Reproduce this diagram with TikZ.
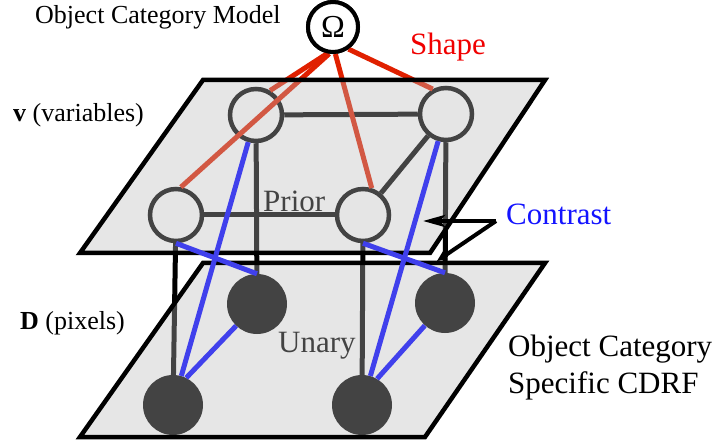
\documentclass[tikz,border=0pt]{standalone}
\usepackage{fontspec}
\setmainfont{Liberation Serif}
\usetikzlibrary{arrows.meta}
\definecolor{redline}{RGB}{224,32,0}
\definecolor{redtext}{RGB}{240,0,0}
\definecolor{blueline}{RGB}{64,64,236}
\definecolor{bluetext}{RGB}{20,20,255}
\definecolor{planegray}{RGB}{186,186,186}
\begin{document}
\begin{tikzpicture}[x=1pt,y=-1pt,
  vnode/.style={circle,draw=black,fill=white,line width=4.5pt,minimum size=52pt,inner sep=0pt},
  dnode/.style={circle,fill=black,minimum size=60pt,inner sep=0pt},
  omnode/.style={circle,draw=black,fill=white,line width=4pt,minimum size=50pt,inner sep=0pt,font=\fontsize{32}{32}\selectfont},
  prioredge/.style={line width=5pt,black},
  shapeedge/.style={line width=5pt,redline},
  contrastedge/.style={line width=5pt,blueline},
  plane/.style={fill=planegray,fill opacity=0.365,draw=black,draw opacity=1,line width=4.5pt},
  ptr/.style={line width=4pt,black},
  lbl/.style={anchor=base west,inner sep=0pt},
]
\useasboundingbox (0,0) rectangle (720,446);
% nodes
\node[omnode] (Om) at (333,27) {Ω};
\node[vnode] (vTL) at (256,115) {};
\node[vnode] (vTR) at (446,114) {};
\node[vnode] (vBL) at (176,215) {};
\node[vnode] (vBR) at (363,215) {};
\node[dnode] (dTL) at (257,304) {};
\node[dnode] (dTR) at (445,303) {};
\node[dnode] (dBL) at (173,405) {};
\node[dnode] (dBR) at (362,405) {};
% prior edges and vertical links (under the planes)
\draw[prioredge] (vTL) -- (vTR);
\draw[prioredge] (vBL) -- (vBR);
\draw[prioredge] (vTR) -- (vBR);
\draw[prioredge] (vTL) -- (dTL);
\draw[prioredge] (vTR) -- (dTR);
\draw[prioredge] (vBL) -- (dBL);
\draw[prioredge] (vBR) -- (dBR);
% shape edges
\draw[shapeedge] (Om.-102) -- (vTL.60);
\draw[shapeedge] (Om.-98) -- (vBL.80);
\draw[shapeedge] (Om.-85) -- (vBR.72);
\draw[shapeedge] (Om.-55) -- (vTR.118);
\node[lbl,font=\fontsize{31}{36}\selectfont] (tPrior) at (263,212) {Prior};
\node[lbl,font=\fontsize{31}{36}\selectfont] (tUnary) at (278,352) {Unary};
% planes
\path[plane] (80,253) -- (430,253) -- (545,80) -- (203,80) -- cycle;
\path[plane] (80,437) -- (425,437) -- (545,263) -- (203,263) -- cycle;
\node[omnode] at (Om) {Ω};
% contrast edges
\draw[contrastedge] (vBL.south) -- (dTL.north);
\draw[contrastedge] (vBR.south) -- (dTR.north);
\draw[contrastedge] (vTL) -- (dBL);
\draw[contrastedge] (vTR) -- (dBR);
\draw[contrastedge] (dTL) -- (dBL.64);
\draw[contrastedge] (dTR) -- (dBR.60);
% contrast pointer
\coordinate (cK) at (496,221);
\coordinate (cUp) at (423,221);
\coordinate (cDown) at (437,261);
\draw[ptr,-{Stealth[length=22pt,width=12pt,inset=5pt]}] (cK) -- (cUp);
\draw[ptr,-{Stealth[length=10pt,width=9pt,inset=3pt]}] (cK) -- (cDown);
% labels
\node[lbl,font=\fontsize{26}{30}\selectfont] (tOCM) at (35,24) {Object Category Model};
\node[lbl,text=redtext,font=\fontsize{31}{36}\selectfont] (tShape) at (410,55) {Shape};
\node[lbl,font=\fontsize{26}{30}\selectfont] (tV) at (13,122) {\textbf{v} (variables)};
\node[lbl,text=bluetext,font=\fontsize{31}{36}\selectfont] (tContrast) at (506,225) {Contrast};
\node[lbl,font=\fontsize{26}{30}\selectfont] (tD) at (20,330) {\textbf{D} (pixels)};
\node[lbl,font=\fontsize{31}{36}\selectfont] (tOCS1) at (508,356) {Object Category};
\node[lbl,font=\fontsize{31}{36}\selectfont] (tOCS2) at (508,393) {Specific CDRF};
\end{tikzpicture}
\end{document}
